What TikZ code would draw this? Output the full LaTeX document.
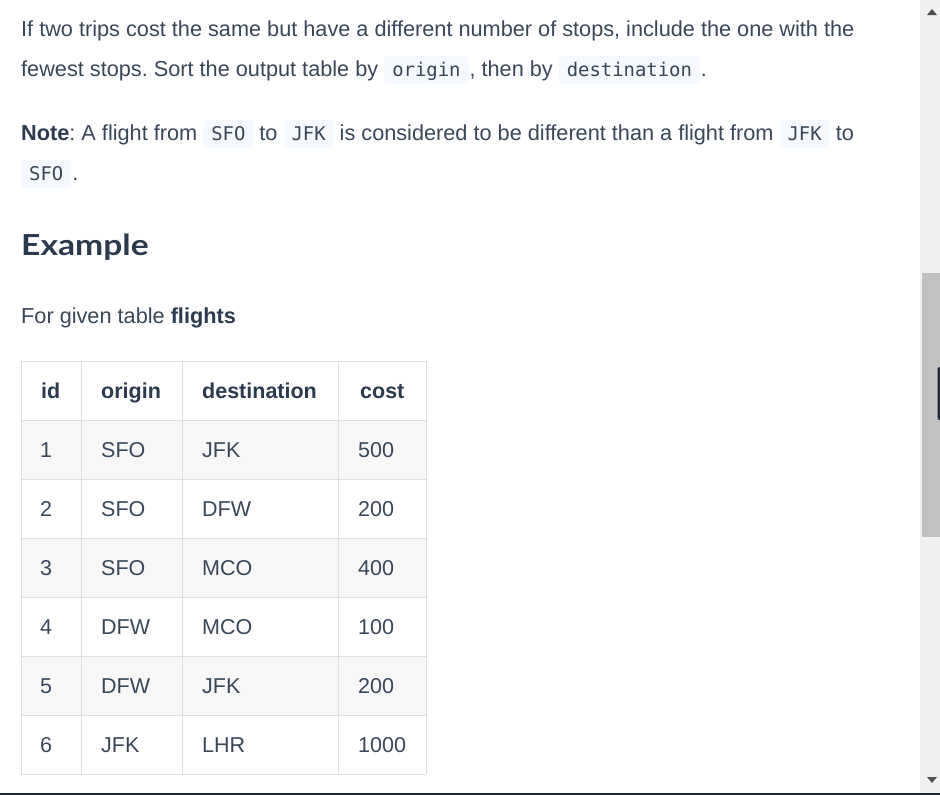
\documentclass[tikz,border=0pt]{standalone}
\usepackage{fontspec}
\setmainfont{Liberation Sans}
\newfontfamily\codefont{DejaVu Sans Mono}
\newfontfamily\headfont[FakeStretch=1.16]{Lato}
\definecolor{txt}{HTML}{3A4759}
\definecolor{dark}{HTML}{2C3A4F}
\definecolor{codebg}{HTML}{F5F8FC}
\definecolor{grid}{HTML}{DEDEDE}
\definecolor{rowbg}{HTML}{F7F7F7}
\definecolor{sbbg}{HTML}{F0F0F0}
\definecolor{thumb}{HTML}{C1C1C1}
\definecolor{arrowc}{HTML}{505050}
\definecolor{barc}{HTML}{1E2838}
\frenchspacing
\newcommand{\cd}[1]{\tikz[baseline=(c.base)]\node[fill=codebg,rounded corners=3pt,inner xsep=8pt,inner ysep=0pt,text height=20pt,text depth=8pt,font=\codefont\fontsize{18.9}{18.9}\selectfont,text=txt](c){#1};}
\tikzset{
  line/.style={anchor=base west,inner sep=0pt,text=txt,font=\fontsize{21.7}{21.7}\selectfont},
  cell/.style={anchor=base west,inner sep=0pt,text=txt,font=\fontsize{21.5}{21.5}\selectfont},
  hcell/.style={anchor=base west,inner sep=0pt,text=dark,font=\bfseries\fontsize{21.5}{21.5}\selectfont},
}
\begin{document}
\begin{tikzpicture}[x=1pt,y=-1pt]
\useasboundingbox (0,0) rectangle (940,795);
\fill[white] (0,0) rectangle (940,795);
% text
\node[line] (l1) at (21,36) {If two trips cost the same but have a different number of stops, include the one with the};
\node[line] (l2) at (21,76) {fewest stops. Sort the output table by \cd{origin}\kern1pt, then by \cd{destination}\kern1pt.};
\node[line] (l3) at (21,140) {\textcolor{dark}{\bfseries Note}: A flight from \cd{SFO} to \cd{JFK} is considered to be different than a flight from \cd{JFK} to};
\node[line] (l4) at (21,180) {\cd{SFO}\kern1pt.};
\node[anchor=base west,inner sep=0pt,text=dark,font=\headfont\bfseries\fontsize{29}{29}\selectfont] (ex) at (21,255) {Example};
\node[line] (fg) at (21,323) {For given table \textcolor{dark}{\bfseries flights}};
% table
\foreach \r in {1,3,5} {\fill[rowbg] (21,{361+59*\r}) rectangle (426,{420+59*\r});}
\foreach \y in {361,420,479,538,597,656,715,774} {\draw[grid] (21,\y) -- (426,\y);}
\foreach \x in {21,81,182,338,426} {\draw[grid] (\x,361) -- (\x,774);}
\node[hcell] (h1) at (41,398.5) {id};
\node[hcell] (h2) at (101,398.5) {origin};
\node[hcell] (h3) at (202,398.5) {destination};
\node[hcell] (h4) at (360,398.5) {cost};
\foreach \i/\o/\d/\c [count=\k] in {1/SFO/JFK/500,2/SFO/DFW/200,3/SFO/MCO/400,4/DFW/MCO/100,5/DFW/JFK/200,6/JFK/LHR/1000} {
  \node[cell] (id\k) at (40,{457.3+59*(\k-1)}) {\i};
  \node[cell] (or\k) at (101,{457.3+59*(\k-1)}) {\o};
  \node[cell] (de\k) at (202,{457.3+59*(\k-1)}) {\d};
  \node[cell] (co\k) at (358,{457.3+59*(\k-1)}) {\c};
}
% scrollbar
\fill[sbbg] (920,0) rectangle (940,795);
\fill[thumb] (922,273) rectangle (940,537);
\fill[barc,rounded corners=1.5pt] (937.5,367) rectangle (942,420);
\fill[arrowc] (927,15) -- (937,15) -- (932,9) -- cycle;
\fill[arrowc] (927,777) -- (937,777) -- (932,783) -- cycle;
\fill[barc] (0,793) rectangle (940,795);
\end{tikzpicture}
\end{document}
